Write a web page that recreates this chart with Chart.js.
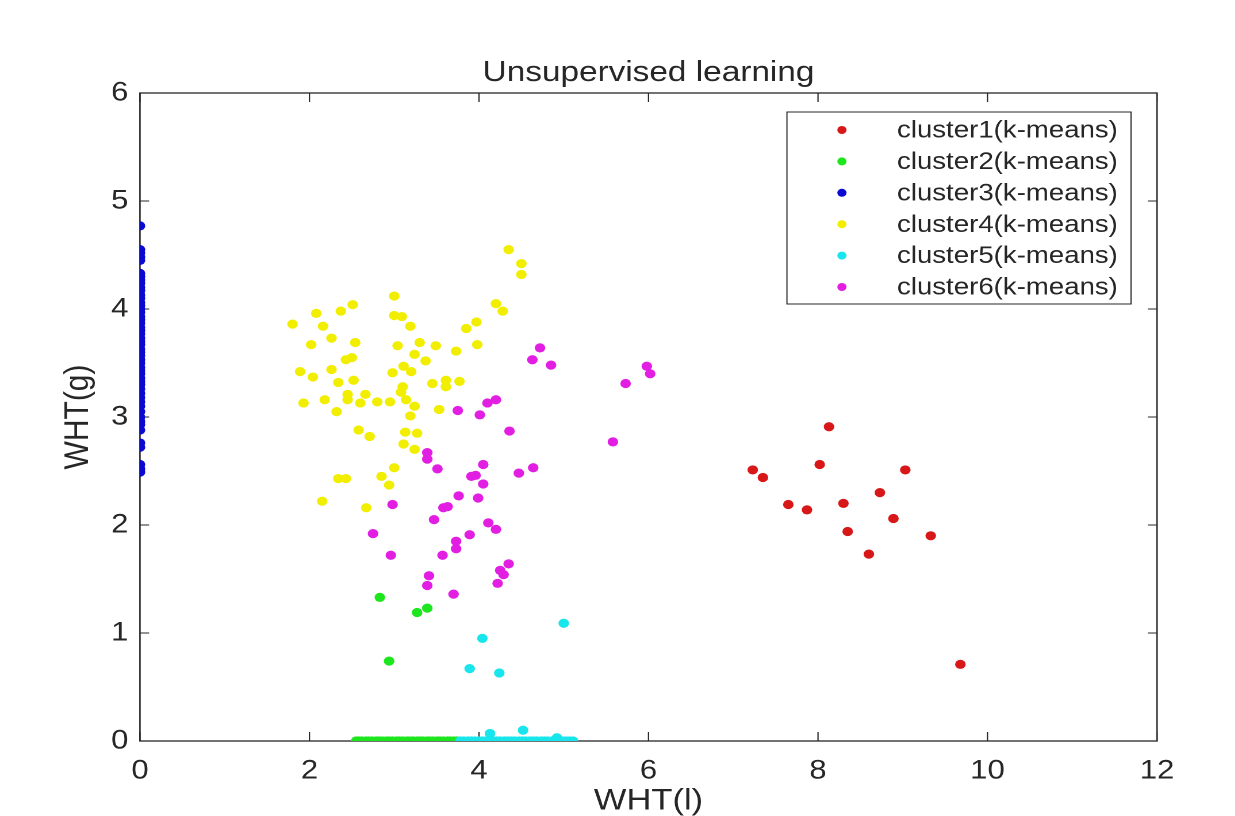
<!DOCTYPE html>
<html><head><meta charset="utf-8">
<script src="https://cdn.jsdelivr.net/npm/chart.js@4.4.1/dist/chart.umd.min.js"></script>
<style>
html,body{margin:0;padding:0;background:#fff;overflow:hidden;}
#wrap{width:1235px;height:816px;overflow:hidden;background:#fff;}
#c{display:block;transform:scaleX(1.15);transform-origin:0 0;}
</style></head><body>
<div id="wrap"><canvas id="c" width="1074" height="816" style="width:1074px;height:816px"></canvas></div>
<script>
// ---- data ----
const seriesLabels = ['cluster1(k-means)','cluster2(k-means)','cluster3(k-means)','cluster4(k-means)','cluster5(k-means)','cluster6(k-means)'];
const seriesColors = ['#d81818','#1ee61e','#0a0ad2','#f2ee00','#18e6ec','#e21ee2'];

const cluster1X = [7.23,7.35,7.65,7.87,8.02,8.13,8.30,8.35,8.60,8.73,8.89,9.03,9.33,9.68];
const cluster1Y = [2.51,2.44,2.19,2.14,2.56,2.91,2.20,1.94,1.73,2.30,2.06,2.51,1.90,0.71];

const cluster2X = [2.83,2.94,3.27,3.39,
  2.55,2.58,2.62,2.67,2.70,2.74,2.79,2.82,2.86,2.91,2.94,2.98,3.03,3.06,3.10,3.15,
  3.18,3.22,3.27,3.30,3.34,3.39,3.42,3.46,3.51,3.54,3.58,3.63,3.66,3.70,3.74];
const cluster2Y = [1.33,0.74,1.19,1.23,
  0,0,0,0,0,0,0,0,0,0,0,0,0,0,0,0,
  0,0,0,0,0,0,0,0,0,0,0,0,0,0,0];

const cluster3X = [0,0,0,0,0,0,0,0,0,0,0,0,0,0,0,0,0,0,0,0,0,0,0,0,0,0,
  0,0,0,0,0,0,0,0,0,0,0,0,0,0,0,0,0,0,0,0,0,0,0,0,0,0];
const cluster3Y = [4.77,4.55,4.52,4.48,4.45,4.33,4.30,4.27,4.24,4.20,4.17,4.13,4.10,4.06,4.03,4.00,3.97,3.93,3.90,3.87,3.83,3.80,3.77,3.73,3.70,3.67,
  3.63,3.60,3.57,3.53,3.50,3.46,3.43,3.40,3.36,3.33,3.30,3.26,3.22,3.18,3.14,3.10,3.05,3.00,2.96,2.93,2.88,2.76,2.72,2.56,2.52,2.49];

const cluster4X = [4.35,4.50,4.50,3.00,2.51,2.37,2.08,1.80,2.16,3.00,3.09,3.19,4.20,4.28,3.97,3.85,
  2.02,2.26,2.54,3.04,3.30,3.49,3.98,3.73,3.24,2.50,2.43,3.37,1.89,2.04,2.26,2.98,3.11,3.20,
  2.34,2.52,3.45,3.61,3.61,3.77,3.10,3.08,1.93,2.18,2.45,2.45,2.66,2.60,2.80,2.95,3.14,3.24,
  2.32,3.19,3.53,2.58,2.71,3.13,3.27,3.11,3.24,3.00,2.34,2.43,2.85,2.94,2.15,2.67];
const cluster4Y = [4.55,4.42,4.32,4.12,4.04,3.98,3.96,3.86,3.84,3.94,3.93,3.84,4.05,3.98,3.88,3.82,
  3.67,3.73,3.69,3.66,3.69,3.66,3.67,3.61,3.58,3.55,3.53,3.52,3.42,3.37,3.44,3.41,3.47,3.42,
  3.32,3.34,3.31,3.34,3.28,3.33,3.28,3.23,3.13,3.16,3.21,3.16,3.21,3.13,3.14,3.14,3.16,3.10,
  3.05,3.01,3.07,2.88,2.82,2.86,2.85,2.75,2.70,2.53,2.43,2.43,2.45,2.37,2.22,2.16];

const cluster5X = [4.04,3.89,4.24,5.00,4.13,4.52,4.92,
  3.78,3.82,3.87,3.91,3.95,4.00,4.04,4.08,4.12,4.17,4.21,4.25,4.30,4.34,4.38,4.42,
  4.47,4.51,4.55,4.60,4.64,4.68,4.73,4.77,4.81,4.86,4.90,4.94,4.99,5.03,5.07,5.11];
const cluster5Y = [0.95,0.67,0.63,1.09,0.07,0.10,0.03,
  0,0,0,0,0,0,0,0,0,0,0,0,0,0,0,0,
  0,0,0,0,0,0,0,0,0,0,0,0,0,0,0,0];

const cluster6X = [4.72,4.63,4.85,5.98,6.02,5.73,3.75,4.01,4.10,4.20,4.36,5.58,3.39,3.39,3.51,4.05,
  3.91,3.96,4.05,4.47,4.64,2.98,3.76,3.99,3.58,3.63,3.47,4.11,4.20,2.75,3.89,3.73,3.73,2.96,
  3.57,4.35,4.25,4.29,4.22,3.41,3.39,3.70];
const cluster6Y = [3.64,3.53,3.48,3.47,3.40,3.31,3.06,3.02,3.13,3.16,2.87,2.77,2.67,2.61,2.52,2.56,
  2.45,2.46,2.38,2.48,2.53,2.19,2.27,2.25,2.16,2.17,2.05,2.02,1.96,1.92,1.91,1.85,1.78,1.72,
  1.72,1.64,1.58,1.54,1.46,1.53,1.44,1.36];

const xTicks = [0,2,4,6,8,10,12];
const yTicks = [0,1,2,3,4,5,6];
const chartTitle = 'Unsupervised learning';
const xTitle = 'WHT(l)';
const yTitle = 'WHT(g)';

// ---- build ----
const allX = [cluster1X,cluster2X,cluster3X,cluster4X,cluster5X,cluster6X];
const allY = [cluster1Y,cluster2Y,cluster3Y,cluster4Y,cluster5Y,cluster6Y];
const FONT = '"Liberation Sans", Arial, Helvetica, sans-serif';
const INK = '#262626';
const AREA_LEFT = 121.7, AREA_RIGHT_PAD = 67.9, X_AXIS_H = 75;

const datasets = seriesLabels.map((lab,i)=>({
  label: lab,
  data: allX[i].map((x,j)=>({x:x, y:allY[i][j]})),
  backgroundColor: seriesColors[i],
  borderColor: seriesColors[i],
  borderWidth: 0,
  pointRadius: 4.6,
  pointHoverRadius: 4.6,
  order: seriesLabels.length - i
}));

const boxPlugin = {
  id: 'boxPlugin',
  beforeDatasetsDraw(chart){
    const {ctx, chartArea:a, scales} = chart;
    ctx.save();
    ctx.strokeStyle = INK; ctx.lineWidth = 1.3;
    ctx.strokeRect(a.left, a.top, a.right-a.left, a.bottom-a.top);
    ctx.beginPath();
    xTicks.forEach(v=>{
      const px = scales.x.getPixelForValue(v);
      ctx.moveTo(px, a.bottom); ctx.lineTo(px, a.bottom-9);
      ctx.moveTo(px, a.top); ctx.lineTo(px, a.top+9);
    });
    yTicks.forEach(v=>{
      const py = scales.y.getPixelForValue(v);
      ctx.moveTo(a.left, py); ctx.lineTo(a.left+8, py);
      ctx.moveTo(a.right, py); ctx.lineTo(a.right-8, py);
    });
    ctx.lineWidth = 1.1;
    ctx.stroke();
    ctx.restore();
  }
};

const legendPlugin = {
  id: 'boxLegend',
  afterDraw(chart){
    const {ctx, chartArea:a} = chart;
    const bw = 299.2, bh = 192, right = a.right - 22.6, top = a.top + 19;
    const left = right - bw;
    ctx.save();
    ctx.fillStyle = '#fff';
    ctx.fillRect(left, top, bw, bh);
    ctx.strokeStyle = INK; ctx.lineWidth = 1;
    ctx.strokeRect(left, top, bw, bh);
    ctx.font = '24px ' + FONT;
    ctx.textBaseline = 'middle';
    ctx.textAlign = 'left';
    chart.data.datasets.forEach((ds,i)=>{
      const cy = top + 18 + i*31.4;
      ctx.fillStyle = ds.backgroundColor;
      ctx.beginPath(); ctx.arc(left+47.8, cy, 4, 0, Math.PI*2); ctx.fill();
      ctx.fillStyle = INK;
      ctx.fillText(ds.label, left+95.7, cy+1);
    });
    ctx.restore();
  }
};

new Chart(document.getElementById('c'), {
  type: 'scatter',
  data: { datasets },
  options: {
    responsive: false,
    devicePixelRatio: 2,
    animation: false,
    layout: { padding: { left: 0, right: AREA_RIGHT_PAD, top: 0, bottom: 0 } },
    plugins: {
      legend: { display: false },
      tooltip: { enabled: false },
      title: {
        display: true, text: chartTitle, color: INK, fullSize: false,
        font: { family: FONT, size: 29, weight: 'normal', lineHeight: 1.2 },
        padding: { top: 55.6, bottom: 2.6 }
      }
    },
    scales: {
      x: {
        type: 'linear', min: 0, max: 12,
        afterBuildTicks(s){ s.ticks = xTicks.map(v=>({value:v})); },
        afterFit(s){ s.height = X_AXIS_H; },
        grid: { display: false, drawTicks: false },
        border: { display: false },
        ticks: { color: INK, padding: 14, maxRotation: 0, font: { family: FONT, size: 27 } },
        title: { display: true, text: xTitle, color: INK, font: { family: FONT, size: 30, lineHeight: 1 }, padding: { top: 0, bottom: 0 } }
      },
      y: {
        type: 'linear', min: 0, max: 6,
        afterBuildTicks(s){ s.ticks = yTicks.map(v=>({value:v})); },
        afterFit(s){ s.width = AREA_LEFT; },
        grid: { display: false, drawTicks: false },
        border: { display: false },
        ticks: { color: INK, padding: 10, font: { family: FONT, size: 27 } },
        title: { display: true, text: yTitle, color: INK, font: { family: FONT, size: 30, lineHeight: 1 }, padding: { top: 53, bottom: 0 } }
      }
    }
  },
  plugins: [boxPlugin, legendPlugin]
});
</script>
</body></html>
